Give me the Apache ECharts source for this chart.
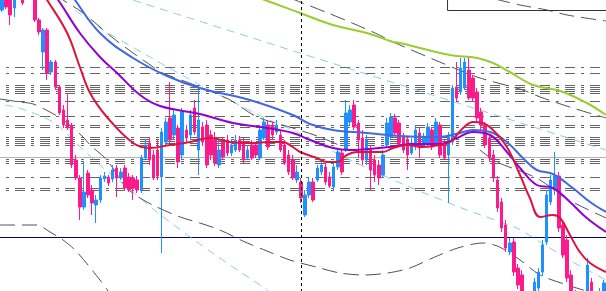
<!DOCTYPE html>
<html><head><meta charset="utf-8">
<script src="https://cdn.jsdelivr.net/npm/echarts@6/dist/echarts.min.js"></script>
<style>html,body{margin:0;padding:0;background:#fff;overflow:hidden}#c{width:606px;height:291px}</style>
</head><body><div id="c"></div>
<script>
// Price levels are expressed on an inverted scale (0 = top of view, 291 = bottom).
// Bars: [open, close, extreme-top, extreme-bottom]
const bars = [
[10,-5,-10,12],[-5,7,-8,9],[-3,15,-6,25],[8,-6,-9,17],[-6,-15,-20,-4],[-8,3,-12,5],[-14,-8,-18,-5],[-8,-4,-12,-1],
[-4,20,-6,22],[20,32,18,35],[52,30,28,70],[30,73,28,80],[72,62,60,75],[62,87,60,90],[87,113,85,115],[110,125,105,128],
[120,128,93,130],[125,165,123,168],[160,178,155,180],[178,207,175,220],[207,192,162,210],[173,195,170,198],[190,203,185,215],[205,200,195,223],
[200,178,175,203],[179,176,172,182],[177,183,175,186],[179,170,165,182],[168,178,165,197],[178,172,168,180],[168,188,165,190],[177,190,173,192],
[178,188,175,200],[180,190,176,193],[190,158,155,193],[158,145,140,160],[143,160,138,165],[155,178,150,180],[150,176,140,180],[177,132,128,253],
[142,122,118,146],[118,140,82,143],[135,115,110,140],[128,162,125,168],[155,112,108,160],[130,138,125,142],[135,115,110,140],[108,132,100,135],
[150,120,85,175],[127,142,122,146],[125,165,120,168],[135,155,130,160],[140,163,132,166],[165,150,140,168],[142,157,138,160],[140,153,135,156],
[153,145,140,156],[150,140,135,152],[140,150,136,152],[142,160,138,163],[158,150,145,160],[145,158,140,160],[145,155,142,158],[158,130,125,160],
[138,122,118,140],[125,147,120,150],[125,135,122,140],[132,125,120,135],[135,150,130,152],[145,163,140,165],[155,172,150,175],[160,178,155,180],
[180,172,165,183],[182,198,178,203],[215,195,190,217],[195,182,178,198],[182,200,178,202],[180,168,165,182],[172,165,160,175],[167,182,163,185],
[177,186,172,188],[187,167,163,190],[167,152,148,170],[153,172,150,175],[150,113,100,152],[122,110,105,125],[105,127,100,130],[123,140,120,158],
[138,160,130,165],[160,140,135,165],[150,170,145,190],[160,175,155,182],[165,178,160,185],[175,155,150,178],[145,123,118,148],[137,117,113,140],
[118,133,114,136],[123,143,120,146],[137,150,133,153],[140,155,136,170],[153,143,138,155],[147,130,126,150],[133,148,128,158],[143,137,133,146],
[143,127,123,146],[130,147,127,150],[143,122,118,146],[125,155,122,158],[143,158,140,160],[155,137,132,203],[142,88,85,145],[87,98,62,102],
[92,68,58,95],[88,62,58,90],[70,98,57,100],[78,98,75,102],[92,118,88,122],[112,125,108,130],[125,145,122,148],[138,158,135,162],
[155,178,150,182],[180,208,176,212],[202,228,198,232],[225,248,220,252],[252,243,238,255],[242,272,238,276],[268,285,264,289],[275,298,270,305],
[298,310,292,315],[310,300,295,312],[300,282,278,303],[288,272,268,292],[272,245,240,276],[242,195,190,245],[202,180,175,205],[190,176,152,195],
[176,228,172,232],[225,255,220,258],[240,278,235,282],[275,295,270,300],[295,305,290,310],[310,300,296,312],[312,304,300,316],[300,265,258,305],
[282,300,278,305],[300,310,296,315],[305,292,288,308],[295,283,280,300]
];
const categories = bars.map((_, i) => 'T' + (i + 1));

// Overlay lines: [time in bars, level]
const maGreen = [[61,-5],[64.7,0],[73.3,13],[81.3,25],[89.6,33],[96,42],[97.7,43],[109.9,55],[116.5,58],[120.4,63],[124.5,72],[130.2,85],[136.8,91],[143.3,103],[148,115]];
const maBlue = [[17.1,-8],[18.3,0],[24.4,33],[32.5,58],[40.8,76],[48.8,88],[61,100],[71.5,115],[75.7,124],[81.3,130],[89.6,133],[97.7,136],[107.4,137],[112.3,133],[115.5,130],[119.7,132],[123.8,142],[127.7,158],[131.1,170],[135,174],[139.9,188],[144.1,202],[148,212]];
const maPurple = [[12.2,-10],[14.2,0],[19.5,33],[24.4,57],[28.6,73],[34.2,95],[39.1,106],[48.8,114],[56.9,123],[65.2,128],[71.5,133],[75.7,140],[81.3,148],[85.5,150],[89.6,149],[95.2,147],[100.1,144],[107.4,144],[111.6,138],[115.5,132],[119.7,135],[123.8,152],[127,168],[131.1,185],[135,188],[139.2,202],[143.3,218],[148,232]];
const maRed = [[9.8,-10],[11.5,0],[16.4,33],[19.5,67],[22,93],[26.1,117],[32.5,143],[36.6,148],[41.5,145],[46.4,142],[51.3,138],[56.2,142],[61,143],[65.9,142],[69.1,142],[71.5,147],[73.3,152],[77.4,158],[79.9,162],[82.3,162],[84.7,155],[87.2,152],[90.4,152],[93.5,152],[96,148],[99.4,145],[103.3,147],[107.4,145],[109.9,142],[113.1,128],[115.5,122],[117.9,123],[120.4,130],[123.8,147],[127,175],[129.4,198],[131.9,217],[135,215],[136.8,218],[139.2,235],[141.6,252],[144.1,263],[148,272]];

const grayA = [[13.4,-6],[15.4,0],[20.3,13],[27.6,38],[32.5,53],[37.4,67],[39.1,72],[48.8,87],[56.2,100],[62.8,117],[71.5,128],[78.1,137],[83.8,147]];
const grayB = [[70.8,-2],[73.3,2],[80.1,13],[86,23],[91.6,33],[96,42],[107.4,62],[116.5,77],[127.7,90],[131.9,97],[139.9,108],[148,118]];
const grayC = [[120.9,-1],[127,5],[133.6,10],[138.5,15],[148,21]];
const grayD = [[0,99],[4.9,102],[8.1,104],[12.2,112],[14.7,118],[16.4,123],[20.3,137],[22,145],[26.1,160],[31,188],[34.2,198],[38.3,207],[44,217],[48.8,223],[53.7,230],[59.3,241],[65.2,251],[70.8,260],[77.2,267],[83,273],[88.9,275],[94.7,273],[100.1,268],[106.2,257],[111.8,248],[117.9,243],[121.4,246],[124.5,253],[127.7,262],[131.9,275],[138.5,285],[144.1,292]];
const grayE = [[0,225],[9,225],[12.2,232],[15.4,240],[18.3,250],[21.5,265],[24.4,280],[26.4,291],[27.4,297]];
const grayF = [[117.2,150],[121.4,162],[127.7,172],[131.9,180],[138.5,199],[143.3,209],[148,218]];

const skyA = [[29.3,-4],[148,150]];
const skyB = [[1.2,105],[3.7,107],[6.1,110],[10.5,117],[12.9,122],[15.4,130],[17.8,140],[24.4,165],[32.5,192],[38.3,212],[48.8,244],[56.9,267],[64.2,287],[66.4,294]];
const skyC = [[18.3,10],[24.4,28],[36.6,57],[48.8,85],[56.9,102],[64.2,117],[72.5,132],[83,155],[97.7,183],[114,210],[126.2,228],[131.9,242],[139.9,262],[148,280]];

const dashLevels = [67.5,73.5,85.5,87.5,89.5,91.5,93.5,101.5,116.5,125.5,127.5,137.5,139.5,141.5,143.5,145.5,159.5,161.5,163.5,177.5,188.5,190.5];
const greyLevel = 157.5;
const navyLevel = 237.5;
const markerTime = 73.63;
const boxCorner = [[109.3,-5],[109.3,10.5],[150,10.5]];

const chart = echarts.init(document.getElementById('c'), null, {renderer: 'canvas'});

function ln(data, color, width, type, smooth, z, extra) {
  return Object.assign({
    type: 'line', xAxisIndex: 1, yAxisIndex: 0, data: data, symbol: 'none', silent: true,
    smooth: smooth, clip: true, z: z,
    lineStyle: {color: color, width: width, type: type}
  }, extra || {});
}

const series = [];
dashLevels.forEach(v => {
  series.push(ln([[0, v], [148, v]], '#666666', 1, [10, 6, 3, 6], false, 1, {lineStyle: {color: '#666666', width: 1, type: [10, 6, 3, 6], dashOffset: 10}}));
});
series.push(ln([[0, greyLevel], [148, greyLevel]], '#b4b4b4', 1, 'solid', false, 1));
series.push(ln([[0, navyLevel], [148, navyLevel]], '#000080', 1, 'solid', false, 2));
series.push(ln(skyA, '#8ccbe6', 1, [8, 6], false, 2));
series.push(ln(skyB, '#8ccbe6', 1, [8, 6], 0.3, 2));
series.push(ln(skyC, '#8ccbe6', 1, [8, 6], 0.2, 2));
[grayA, grayB, grayC, grayD, grayE, grayF].forEach(g => series.push(ln(g, '#505050', 1, [15, 7], 0.3, 2)));
series.push({
  type: 'candlestick', xAxisIndex: 0, yAxisIndex: 0, data: bars, barWidth: 3, silent: true, clip: true, z: 3,
  itemStyle: {color: '#ff1a8c', color0: '#1e90ff', borderColor: '#ff1a8c', borderColor0: '#1e90ff', borderWidth: 1}
});
series.push(ln(maGreen, '#9acd32', 2, 'solid', 0.4, 5));
series.push(ln(maBlue, '#4169e1', 2, 'solid', 0.4, 5));
series.push(ln(maPurple, '#9400d3', 2, 'solid', 0.4, 5));
series.push(ln(maRed, '#dc143c', 2, 'solid', 0.4, 5));
series.push(ln([[markerTime, -5], [markerTime, 300]], '#000000', 1, [3, 3], false, 6));
series.push(ln(boxCorner, '#333333', 1, 'solid', false, 6, {clip: false}));

chart.setOption({
  animation: false,
  backgroundColor: '#ffffff',
  grid: {left: 0, right: 0, top: 0, bottom: 0, containLabel: false},
  xAxis: [
    {type: 'category', data: categories, boundaryGap: true, show: false},
    {type: 'value', min: 0, max: 148, show: false}
  ],
  yAxis: [{type: 'value', min: 0, max: 291, inverse: true, show: false}],
  series: series
});
</script>
</body></html>
